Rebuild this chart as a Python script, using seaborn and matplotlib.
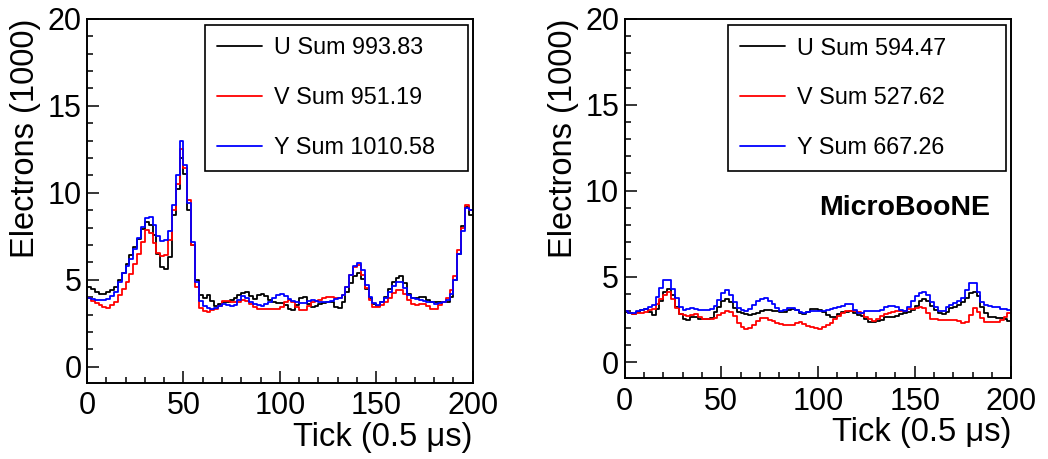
import numpy as np
import matplotlib
matplotlib.use('Agg')
import matplotlib.pyplot as plt
from matplotlib.ticker import MultipleLocator
import seaborn as sns

# bin starts (width 2 ticks), values in units of 1000 electrons
ticks = np.arange(0, 200, 2)

# left panel
left_u = [4.6, 4.45, 4.3, 4.2, 4.2, 4.3, 4.4, 4.6, 5.0, 5.4,
          5.9, 6.4, 6.9, 7.35, 7.9, 8.35, 8.15, 7.6, 6.5, 5.75,
          5.6, 6.3, 8.7, 10.2, 12.0, 11.1, 9.0, 7.0, 5.0, 4.1,
          3.95, 4.1, 3.8, 3.5, 3.6, 3.7, 3.75, 3.85, 3.95, 4.1,
          4.25, 4.3, 4.05, 3.9, 4.1, 4.2, 4.05, 3.85, 3.7, 3.65,
          3.65, 3.55, 3.3, 3.25, 3.55, 3.95, 4.0, 3.6, 3.45, 3.5,
          3.6, 3.65, 3.75, 3.7, 3.45, 3.4, 3.75, 4.3, 4.8, 5.2,
          5.4, 5.05, 4.45, 3.95, 3.6, 3.5, 3.7, 4.0, 4.45, 4.85,
          5.1, 5.2, 4.8, 4.2, 3.95, 3.95, 4.0, 4.0, 3.85, 3.75,
          3.7, 3.7, 3.7, 3.7, 4.0, 5.0, 6.5, 8.1, 9.2, 8.7]
left_v = [3.95, 3.8, 3.65, 3.55, 3.45, 3.4, 3.55, 3.75, 4.1, 4.5,
          4.9, 5.35, 5.9, 6.5, 7.2, 7.85, 7.7, 7.1, 6.55, 6.35,
          6.45, 7.3, 9.0, 10.5, 12.5, 11.4, 9.6, 7.0, 4.6, 3.4,
          3.2, 3.15, 3.25, 3.3, 3.5, 3.8, 3.8, 3.75, 3.7, 3.75,
          3.85, 3.8, 3.6, 3.45, 3.35, 3.35, 3.35, 3.3, 3.3, 3.3,
          3.45, 3.7, 3.85, 3.75, 3.45, 3.25, 3.25, 3.5, 3.7, 3.8,
          3.85, 3.95, 4.0, 4.0, 3.95, 3.95, 4.15, 4.6, 5.3, 5.75,
          5.85, 5.3, 4.55, 3.85, 3.45, 3.45, 3.55, 3.7, 3.95, 4.25,
          4.4, 4.4, 4.2, 3.85, 3.6, 3.55, 3.6, 3.6, 3.5, 3.35,
          3.35, 3.55, 3.75, 3.95, 4.4, 5.2, 6.7, 8.0, 9.3, 9.0]
left_y = [3.95, 3.9, 3.85, 3.85, 3.85, 3.9, 4.05, 4.3, 4.85, 5.4,
          5.8, 6.2, 6.75, 7.4, 8.05, 8.55, 8.6, 8.15, 7.5, 7.25,
          7.3, 7.8, 9.3, 11.0, 13.0, 11.6, 9.4, 7.2, 4.9, 3.8,
          3.5, 3.4, 3.35, 3.4, 3.5, 3.6, 3.55, 3.5, 3.55, 3.85,
          4.05, 3.95, 3.75, 3.6, 3.55, 3.5, 3.6, 3.75, 3.95, 4.15,
          4.2, 4.05, 3.9, 3.8, 3.75, 3.65, 3.65, 3.8, 3.85, 3.8,
          3.75, 3.75, 3.7, 3.8, 3.9, 3.95, 4.15, 4.6, 5.3, 5.8,
          5.95, 5.55, 4.7, 4.0, 3.65, 3.55, 3.7, 3.95, 4.3, 4.65,
          4.85, 4.9, 4.55, 4.15, 3.95, 3.9, 3.85, 3.8, 3.75, 3.7,
          3.62, 3.65, 3.7, 3.85, 4.2, 5.0, 6.5, 7.8, 9.1, 9.0]

# right panel
right_u = [2.93, 2.85, 2.8, 2.95, 3.05, 3.12, 2.95, 2.75, 3.1, 3.6,
           4.1, 4.28, 3.95, 3.2, 2.8, 2.55, 2.48, 2.62, 2.65, 2.55,
           2.5, 2.52, 2.6, 2.95, 3.25, 3.55, 3.7, 3.5, 3.15, 2.95,
           2.85, 2.8, 2.75, 2.8, 2.9, 3.02, 3.06, 3.05, 3.02, 3.0,
           2.95, 2.93, 3.05, 3.12, 3.05, 2.9, 2.83, 2.95, 3.1, 3.12,
           3.05, 2.93, 2.75, 2.62, 2.62, 2.8, 2.93, 2.96, 2.98, 2.9,
           2.78, 2.7, 2.55, 2.38, 2.35, 2.4, 2.48, 2.62, 2.65, 2.62,
           2.7, 2.8, 2.88, 2.95, 3.05, 3.3, 3.6, 3.7, 3.6, 3.3,
           3.05, 2.9, 2.8, 2.95, 3.15, 3.25, 3.35, 3.5, 3.75, 4.05,
           4.1, 3.85, 3.2, 2.85, 2.65, 2.62, 2.6, 2.58, 2.5, 2.4]
right_v = [3.02, 2.9, 2.83, 2.85, 2.88, 2.95, 3.05, 3.12, 3.4, 3.7,
           3.95, 4.08, 3.7, 3.15, 2.83, 2.78, 2.73, 2.75, 2.79, 2.65,
           2.55, 2.54, 2.54, 2.6, 2.75, 2.9, 3.02, 2.95, 2.68, 2.3,
           2.05, 1.97, 2.0, 2.2, 2.4, 2.58, 2.58, 2.48, 2.4, 2.3,
           2.22, 2.18, 2.16, 2.15, 2.3, 2.38, 2.22, 2.12, 2.05, 1.98,
           1.96, 2.05, 2.18, 2.3, 2.5, 2.7, 2.85, 2.98, 3.02, 2.98,
           2.93, 2.85, 2.66, 2.5, 2.4, 2.55, 2.72, 2.8, 2.88, 2.93,
           2.97, 3.0, 3.02, 3.08, 3.12, 3.15, 3.22, 3.15, 2.9, 2.55,
           2.5, 2.48, 2.48, 2.48, 2.48, 2.45, 2.4, 2.32, 2.35, 2.75,
           3.15, 2.95, 2.6, 2.38, 2.34, 2.34, 2.34, 2.45, 2.62, 2.9]
right_y = [3.02, 2.9, 2.85, 2.98, 3.05, 3.12, 3.2, 3.35, 3.8, 4.35,
           4.8, 4.82, 4.3, 3.75, 3.2, 3.05, 3.08, 3.18, 3.12, 3.06,
           3.06, 3.06, 3.1, 3.3, 3.65, 4.05, 4.2, 3.95, 3.5, 3.15,
           3.05, 3.02, 3.1, 3.35, 3.6, 3.72, 3.76, 3.6, 3.4, 3.15,
           2.98, 3.05, 3.16, 3.15, 3.04, 2.95, 2.88, 2.92, 2.98, 3.02,
           3.02, 3.02, 3.04, 3.1, 3.14, 3.22, 3.28, 3.38, 3.4, 3.05,
           2.85, 2.88, 3.0, 3.02, 2.98, 2.98, 3.05, 3.2, 3.3, 3.3,
           3.2, 3.05, 3.02, 3.25, 3.55, 3.85, 4.05, 4.08, 3.95, 3.5,
           3.2, 3.0, 3.0, 3.2, 3.35, 3.45, 3.55, 3.75, 4.2, 4.6,
           4.65, 4.1, 3.5, 3.35, 3.3, 3.25, 3.2, 3.12, 3.08, 3.05]

left_labels = ['U Sum 993.83', 'V Sum 951.19', 'Y Sum 1010.58']
right_labels = ['U Sum 594.47', 'V Sum 527.62', 'Y Sum 667.26']
colors = ['black', '#ff0000', '#0000ff']

sns.set_style('white')
plt.rcParams['font.family'] = ['Liberation Sans', 'DejaVu Sans']
plt.rcParams.update({'text.color': 'black', 'axes.labelcolor': 'black',
                     'xtick.color': 'black', 'ytick.color': 'black'})


def draw_panel(ax, series, labels, legend_box):
    edges = np.append(ticks, 200)
    for vals, lab, c in zip(series, labels, colors):
        y = np.append(vals, vals[-1])
        sns.lineplot(x=edges, y=y, color=c, lw=1.3, drawstyle='steps-post',
                     estimator=None, sort=False, label=lab, ax=ax)

    ax.set_xlim(0, 200)
    ax.set_ylim(-0.92, 20)
    ax.set_xticks([0, 50, 100, 150, 200])
    ax.set_yticks([0, 5, 10, 15, 20])
    ax.xaxis.set_minor_locator(MultipleLocator(10))
    ax.yaxis.set_minor_locator(MultipleLocator(1))
    ax.tick_params(which='both', direction='in', top=False, right=False,
                   bottom=True, left=True, width=1.1, colors='black')
    ax.tick_params(which='major', length=8.5, labelsize=22)
    ax.tick_params(axis='x', which='major', pad=6)
    ax.tick_params(axis='y', which='major', pad=4)
    ax.tick_params(which='minor', length=4.3)
    for sp in ax.spines.values():
        sp.set_visible(True)
        sp.set_color('black')
        sp.set_linewidth(1.4)

    ax.set_xlabel('Tick (0.5 μs)', fontsize=23.5, loc='right')
    ax.xaxis.set_label_coords(1.0, -0.108)
    ax.set_ylabel('Electrons (1000)', fontsize=23.5, loc='top')
    ax.yaxis.set_label_coords(-0.118, 1.0)

    leg = ax.legend(loc='upper left', bbox_to_anchor=legend_box, mode='expand',
                    borderaxespad=0, fontsize=16.8, frameon=True, fancybox=False,
                    framealpha=1, edgecolor='black', handlelength=1.95,
                    handletextpad=0.5, borderpad=0.5, labelspacing=1.15)
    leg.get_frame().set_linewidth(1.2)


fig = plt.figure(figsize=(10.48, 4.59), dpi=100)
ax1 = fig.add_axes([0.083, 0.166, 0.368, 0.793])
ax2 = fig.add_axes([0.596, 0.176, 0.369, 0.783])

draw_panel(ax1, [left_u, left_v, left_y], left_labels, (0.306, 0.588, 0.681, 0.396))
draw_panel(ax2, [right_u, right_v, right_y], right_labels, (0.267, 0.588, 0.720, 0.395))

ax2.text(0.946, 0.474, 'MicroBooNE', transform=ax2.transAxes, ha='right',
         va='center', fontsize=20.5, fontweight='bold')

fig.savefig('out.png', dpi=100)
